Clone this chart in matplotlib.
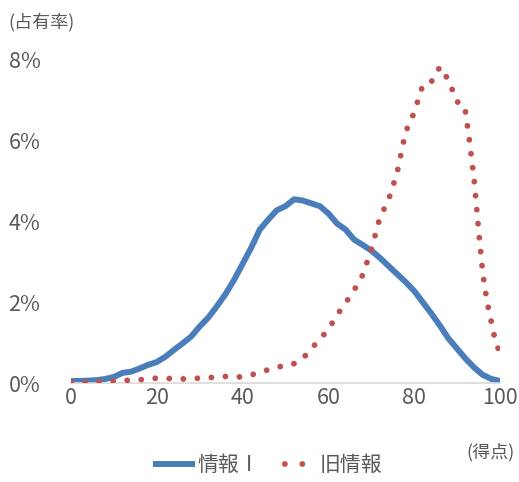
import matplotlib.pyplot as plt
from matplotlib.lines import Line2D
import numpy as np

plt.rcParams['font.family'] = ['Noto Sans CJK JP', 'DejaVu Sans']

# 得点
score_new = [0, 2, 4, 6, 8, 10, 12, 14, 16, 18, 20, 22, 24, 26, 28, 30, 32, 34, 36, 38,
             40, 42, 44, 46, 48, 50, 52, 54, 56, 58, 60, 62, 64, 66, 68, 70, 72, 74, 76, 78,
             80, 82, 84, 86, 88, 90, 92, 94, 96, 98, 100]
# 情報I の占有率(%)
rate_new = [0.05, 0.05, 0.06, 0.07, 0.10, 0.15, 0.25, 0.28, 0.36, 0.45, 0.52, 0.65, 0.82, 0.98, 1.15,
            1.40, 1.62, 1.90, 2.20, 2.55, 2.95, 3.35, 3.80, 4.05, 4.28, 4.38, 4.55, 4.52, 4.45, 4.38,
            4.20, 3.95, 3.80, 3.55, 3.42, 3.28, 3.10, 2.90, 2.70, 2.50, 2.28, 2.00, 1.72, 1.42, 1.10,
            0.85, 0.60, 0.38, 0.20, 0.10, 0.05]

score_old = [0, 2, 4, 6, 8, 10, 12, 14, 16, 18, 20, 22, 24, 26, 28, 30, 32, 34, 36, 38,
             40, 42, 44, 46, 48, 50, 52, 54, 56, 58, 60, 62, 64, 66, 68, 70, 72, 74, 76, 78,
             80, 82, 84, 86, 88, 90, 91, 92, 93, 94, 95, 96, 97, 98, 99, 100]
# 旧情報 の占有率(%)
rate_old = [0.02, 0.02, 0.02, 0.03, 0.04, 0.05, 0.06, 0.07, 0.08, 0.10, 0.12, 0.12, 0.10, 0.10, 0.11,
            0.12, 0.13, 0.15, 0.16, 0.15, 0.15, 0.20, 0.26, 0.33, 0.38, 0.45, 0.48, 0.60, 0.85, 1.08,
            1.33, 1.68, 1.98, 2.30, 2.68, 3.30, 4.10, 4.53, 5.20, 6.22, 6.70, 7.38, 7.46, 7.83, 7.50,
            6.96, 6.95, 6.70, 5.90, 5.00, 3.80, 2.70, 2.00, 1.50, 1.00, 0.75]

x_ticks = [0, 20, 40, 60, 80, 100]
y_ticks = [0, 2, 4, 6, 8]

gray = '#595959'
blue = '#4a7ebb'
red = '#c0504d'
dots = (0, (0.01, 2.4))

fig = plt.figure(figsize=(5.19, 4.82), dpi=100)
ax = fig.add_axes([71 / 519, 1 - 383 / 482, 429 / 519, 323 / 482])

ax.plot(score_new, rate_new, color=blue, lw=4.3, solid_capstyle='round',
        solid_joinstyle='round', zorder=2)
ax.plot(score_old, rate_old, color=red, lw=4.2, linestyle=dots,
        dash_capstyle='round', zorder=3)

ax.set_xlim(0, 100)
ax.set_ylim(0, 8)
ax.set_xticks(x_ticks)
ax.set_yticks(y_ticks)
ax.set_yticklabels([f'{v}%' for v in y_ticks])
ax.tick_params(length=0, labelsize=15.5, colors=gray)
ax.tick_params(axis='x', pad=3)
ax.tick_params(axis='y', pad=22)

for s in ['top', 'right', 'left']:
    ax.spines[s].set_visible(False)
ax.spines['bottom'].set_color('#d9d9d9')
ax.spines['bottom'].set_linewidth(1.2)
ax.patch.set_visible(False)

fig.text(8 / 519, 1 - 22 / 482, '(占有率)', fontsize=13, color=gray, va='center', ha='left')
fig.text(490 / 519, 1 - 452 / 482, '(得点)', fontsize=13, color=gray, va='center', ha='center')

# 凡例
handles = [Line2D([], [], color=blue, lw=4.3, solid_capstyle='butt'),
           Line2D([], [], color=red, lw=4.2, linestyle=(1.5, (0.01, 3.0)), dash_capstyle='round')]
ax.legend(handles, ['情報Ⅰ', '旧情報'], loc='center', bbox_to_anchor=(268 / 519, 1 - 465 / 482),
          bbox_transform=fig.transFigure, ncol=2, frameon=False, fontsize=15, labelcolor=gray,
          handlelength=2.0, handletextpad=0.1, columnspacing=0.8)

fig.savefig('out.png', dpi=100)
